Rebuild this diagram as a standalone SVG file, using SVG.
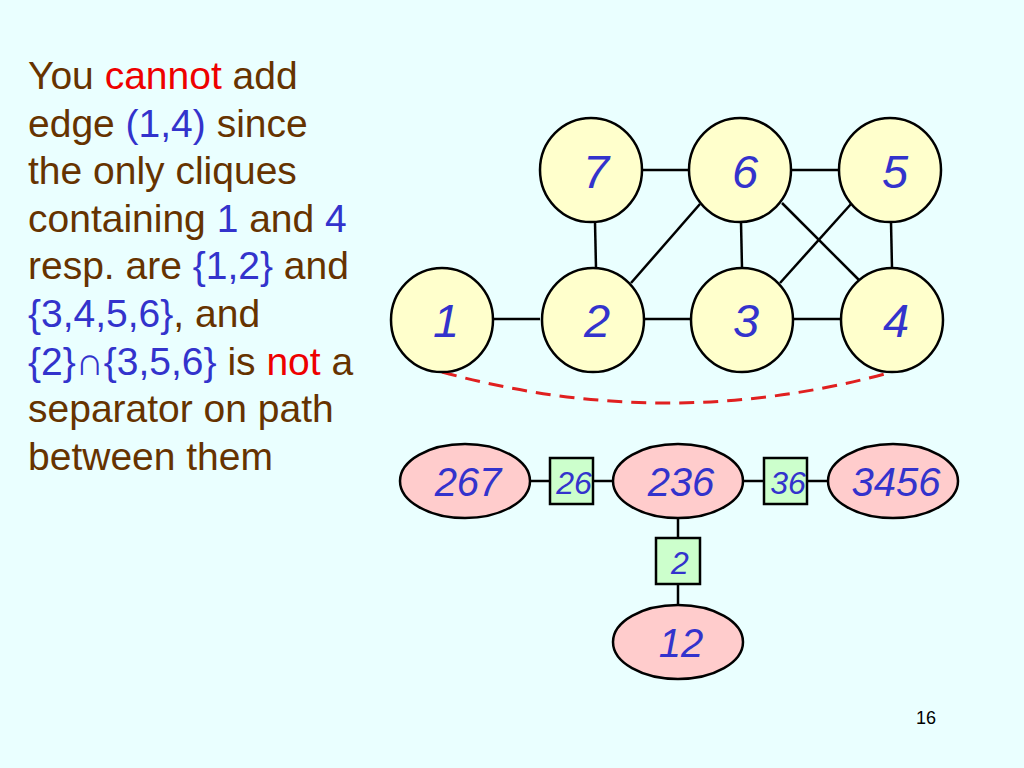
<svg xmlns="http://www.w3.org/2000/svg" width="1024" height="768" viewBox="0 0 1024 768">
<style>
.bg{fill:#eaffff}
.txt{font-family:"Liberation Sans",Arial,sans-serif;font-size:39px;fill:#663300}
.r{fill:#ee0000}
.b{fill:#3333cc}
.circ{fill:#ffffcc;stroke:#000;stroke-width:2.5}
.ell{fill:#ffcccc;stroke:#000;stroke-width:2.5}
.sep{fill:#ccffcc;stroke:#000;stroke-width:2.5}
.lbl{font-family:"Liberation Sans",Arial,sans-serif;font-style:italic;fill:#3333cc;text-anchor:middle}
.big{font-size:47px}
.mid{font-size:40px}
.sm{font-size:32px}
.edge{stroke:#000;stroke-width:2.5;fill:none}
.dash{stroke:#e02020;stroke-width:3;fill:none;stroke-dasharray:15 9}
.pg{font-family:"Liberation Sans",Arial,sans-serif;font-size:18px;fill:#000;text-anchor:middle}
</style>
<rect class="bg" x="0" y="0" width="1024" height="768"/>
<g id="explanation" class="txt">
<text x="28" y="89">You <tspan class="r">cannot</tspan> add</text>
<text x="28" y="137">edge <tspan class="b">(1,4)</tspan> since</text>
<text x="28" y="184">the only cliques</text>
<text x="28" y="232">containing <tspan class="b">1</tspan> and <tspan class="b">4</tspan></text>
<text x="28" y="279">resp. are <tspan class="b">{1,2}</tspan> and</text>
<text x="28" y="327"><tspan class="b">{3,4,5,6}</tspan>, and</text>
<text x="28" y="375"><tspan class="b">{2}∩{3,5,6}</tspan> is <tspan class="r">not</tspan> a</text>
<text x="28" y="422">separator on path</text>
<text x="28" y="470">between them</text>
</g>
<g id="connectors">
<line class="edge" x1="643" y1="170" x2="689" y2="170"/>
<line class="edge" x1="792" y1="170" x2="839" y2="170"/>
<line class="edge" x1="494" y1="319" x2="540" y2="319"/>
<line class="edge" x1="645" y1="319" x2="690" y2="319"/>
<line class="edge" x1="794" y1="319" x2="840" y2="319"/>
<line class="edge" x1="595" y1="222" x2="596" y2="268"/>
<line class="edge" x1="700" y1="204" x2="631" y2="283"/>
<line class="edge" x1="741" y1="222" x2="742" y2="268"/>
<line class="edge" x1="782" y1="203" x2="859" y2="280"/>
<line class="edge" x1="851" y1="204" x2="780" y2="283"/>
<line class="edge" x1="891" y1="222" x2="892" y2="268"/>
<path class="dash" d="M442,372 Q667,434 892,372"/>
<line class="edge" x1="530" y1="481" x2="550" y2="481"/>
<line class="edge" x1="593" y1="481" x2="614" y2="481"/>
<line class="edge" x1="743" y1="481" x2="764" y2="481"/>
<line class="edge" x1="807" y1="481" x2="828" y2="481"/>
<line class="edge" x1="678" y1="518" x2="678" y2="538"/>
<line class="edge" x1="678" y1="584" x2="678" y2="605"/>
</g>
<g id="n7"><ellipse class="circ" cx="591" cy="170" rx="51" ry="52"/><text class="lbl big" x="596" y="188">7</text></g>
<g id="n6"><ellipse class="circ" cx="740" cy="170" rx="51" ry="52"/><text class="lbl big" x="745" y="188">6</text></g>
<g id="n5"><ellipse class="circ" cx="890" cy="170" rx="51" ry="52"/><text class="lbl big" x="895" y="188">5</text></g>
<g id="n1"><ellipse class="circ" cx="442" cy="320" rx="51" ry="52"/><text class="lbl big" x="446" y="337">1</text></g>
<g id="n2"><ellipse class="circ" cx="593" cy="320" rx="51" ry="52"/><text class="lbl big" x="597" y="337">2</text></g>
<g id="n3"><ellipse class="circ" cx="742" cy="320" rx="51" ry="52"/><text class="lbl big" x="746" y="337">3</text></g>
<g id="n4"><ellipse class="circ" cx="892" cy="320" rx="51" ry="52"/><text class="lbl big" x="896" y="337">4</text></g>
<g id="c267"><ellipse class="ell" cx="465" cy="481" rx="65" ry="37"/><text class="lbl mid" x="468" y="496">267</text></g>
<g id="s26"><rect class="sep" x="550" y="458" width="43" height="46"/><text class="lbl sm" x="574" y="494">26</text></g>
<g id="c236"><ellipse class="ell" cx="678" cy="481" rx="65" ry="37"/><text class="lbl mid" x="681" y="496">236</text></g>
<g id="s36"><rect class="sep" x="764" y="458" width="43" height="46"/><text class="lbl sm" x="788" y="494">36</text></g>
<g id="c3456"><ellipse class="ell" cx="893" cy="481" rx="65" ry="37"/><text class="lbl mid" x="896" y="496">3456</text></g>
<g id="s2"><rect class="sep" x="656" y="538" width="44" height="46"/><text class="lbl sm" x="680" y="574">2</text></g>
<g id="c12"><ellipse class="ell" cx="678" cy="642" rx="65" ry="37"/><text class="lbl mid" x="681" y="657">12</text></g>
<text class="pg" x="926" y="724">16</text>
</svg>
